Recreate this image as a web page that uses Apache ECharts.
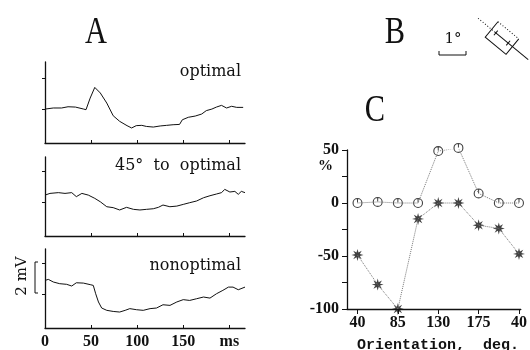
<!DOCTYPE html>
<html>
<head>
<meta charset="utf-8">
<script src="https://cdn.jsdelivr.net/npm/echarts@6/dist/echarts.min.js"></script>
<style>
  html, body { margin: 0; padding: 0; background: #fff; }
  #chart { width: 530px; height: 350px; }
</style>
</head>
<body>
<div id="chart"></div>
<script>
// panel A traces (time in ms, potential in mV)
var tOptimal = [0, 9, 18, 25, 33, 42, 44.5, 49, 54, 60, 67, 74, 81, 89, 94, 99, 105, 110, 117.5, 125, 132, 139, 146, 149, 155.5, 163, 170, 175, 181, 186, 191.5, 197, 202.5, 208, 215];
var vOptimal = [2.04, 2.11, 2.11, 2.19, 2.17, 2.04, 2.0, 2.75, 3.44, 3.08, 2.43, 1.61, 1.25, 0.97, 0.82, 0.97, 0.99, 0.92, 0.88, 0.95, 0.99, 1.03, 1.05, 1.35, 1.51, 1.59, 1.72, 1.94, 2.04, 2.17, 2.28, 2.11, 2.22, 2.15, 2.15];

var t45 = [0, 5.4, 14.5, 21.7, 29, 34, 40, 47, 54, 60, 67, 74, 81, 88.5, 96, 103, 110, 117.5, 123, 128, 135.5, 143, 150, 157, 164.5, 172, 179, 186, 191.6, 195, 200.6, 206, 209.7, 213, 217];
var v45 = [2.49, 2.6, 2.65, 2.6, 2.65, 2.39, 2.6, 2.49, 2.28, 2.06, 1.74, 1.68, 1.53, 1.7, 1.57, 1.53, 1.57, 1.61, 1.7, 1.85, 1.74, 1.78, 1.89, 2.0, 2.11, 2.32, 2.45, 2.56, 2.65, 2.86, 2.69, 2.73, 2.54, 2.73, 2.65];

var tNonopt = [0, 3.6, 9, 16, 23.5, 29, 34, 41.6, 49, 52.4, 55, 58, 61.5, 67, 74, 81, 87, 92, 99.4, 106.6, 114, 121, 128, 135.6, 143, 150, 157, 164.5, 172, 179, 186, 193, 199, 204, 209.7, 217];
var vNonopt = [2.92, 2.99, 2.82, 2.71, 2.67, 2.56, 2.77, 2.75, 2.65, 2.6, 2.06, 1.53, 1.14, 0.99, 0.92, 0.88, 0.99, 1.1, 1.03, 0.99, 1.1, 1.14, 1.35, 1.31, 1.53, 1.68, 1.63, 1.74, 1.85, 1.78, 2.06, 2.28, 2.49, 2.49, 2.32, 2.49];

var timeTicks = [0, 50, 100, 150, 200];
var mvTicks = [2, 4];

// panel C (orientation in deg, response in %)
var orientations = [40, 62.5, 85, 107.5, 130, 152.5, 175, 197.5, 220];
var circleValues = [0, 1, 0, 0, 49, 52, 9, 0, 0];
var starValues = [-49, -77, -100, -15, 0, 0, -21, -24, -48];
var orientTicks = [40, 85, 130, 175, 220];

function pairs(xs, ys) {
    return xs.map(function (x, i) { return [x, ys[i]]; });
}

var ink = '#111';

// 8-point asterisk as a filled star
function starPath() {
    var pts = [];
    for (var i = 0; i < 16; i++) {
        var a = i * Math.PI / 8;
        var r = (i % 2 === 0) ? 10 : 4.2;
        pts.push((10 + r * Math.sin(a)).toFixed(2) + ',' + (10 - r * Math.cos(a)).toFixed(2));
    }
    return 'path://M' + pts.join(' L') + ' Z';
}
var ringPath = 'path://M10,0 A10,10 0 1,1 10,20 A10,10 0 1,1 10,0 Z M10,2.2 A7.8,7.8 0 1,0 10,17.8 A7.8,7.8 0 1,0 10,2.2 Z M9,2 L11,2 L11,9 L9,9 Z';

function traceX(idx, showLabels) {
    return {
        type: 'value', gridIndex: idx, min: 0, max: 217,
        axisLine: {show: true, onZero: false, lineStyle: {color: ink, width: 1.3}},
        axisTick: {show: true, inside: true, length: 3, customValues: timeTicks, lineStyle: {color: ink}},
        axisLabel: {
            show: showLabels, customValues: timeTicks, margin: 6,
            fontFamily: 'Liberation Serif', fontWeight: 'bold', fontSize: 16, color: ink,
            formatter: function (v) { return v === 200 ? 'ms' : String(v); }
        },
        splitLine: {show: false}
    };
}
function traceY(idx, max) {
    return {
        type: 'value', gridIndex: idx, min: -0.15, max: max,
        axisLine: {show: true, onZero: false, lineStyle: {color: ink, width: 1.3}},
        axisTick: {show: true, length: 3, customValues: mvTicks, lineStyle: {color: ink}},
        axisLabel: {show: false},
        splitLine: {show: false}
    };
}
function trace(idx, xs, ys) {
    return {
        type: 'line', xAxisIndex: idx, yAxisIndex: idx,
        data: pairs(xs, ys), showSymbol: false, silent: true,
        lineStyle: {color: ink, width: 1}
    };
}

var chart = echarts.init(document.getElementById('chart'));
var option = {
    backgroundColor: '#fff',
    animation: false,
    grid: [
        {left: 45, top: 62, width: 200, height: 81},
        {left: 45, top: 157, width: 200, height: 79},
        {left: 45, top: 249, width: 200, height: 79},
        {left: 347, top: 150, width: 183, height: 159}
    ],
    xAxis: [
        traceX(0, false), traceX(1, false), traceX(2, true),
        {
            type: 'value', gridIndex: 3, min: 28.3, max: 222,
            axisLine: {show: true, onZero: false, lineStyle: {color: ink, width: 1.3}},
            axisTick: {show: true, length: 5, customValues: orientTicks, lineStyle: {color: ink}},
            axisLabel: {
                customValues: orientTicks, margin: 6,
                fontFamily: 'Liberation Serif', fontWeight: 'bold', fontSize: 16, color: ink,
                formatter: function (v) { return String(v > 180 ? v - 180 : v); }
            },
            splitLine: {show: false}
        }
    ],
    yAxis: [
        traceY(0, 5.08), traceY(1, 4.95), traceY(2, 4.95),
        {
            type: 'value', gridIndex: 3, min: -100, max: 50, interval: 25,
            axisLine: {show: true, onZero: false, lineStyle: {color: ink, width: 1.3}},
            axisTick: {show: true, length: 5, lineStyle: {color: ink}},
            axisLabel: {
                margin: 8,
                fontFamily: 'Liberation Serif', fontWeight: 'bold', fontSize: 16, color: ink,
                formatter: function (v) { return v % 50 === 0 ? String(v) : ''; }
            },
            splitLine: {show: false}
        }
    ],
    series: [
        trace(0, tOptimal, vOptimal),
        trace(1, t45, v45),
        trace(2, tNonopt, vNonopt),
        {
            type: 'line', xAxisIndex: 3, yAxisIndex: 3, data: pairs(orientations, circleValues),
            showSymbol: false, silent: true, lineStyle: {color: '#777', width: 1, type: 'dotted'}
        },
        {
            type: 'line', xAxisIndex: 3, yAxisIndex: 3, data: pairs(orientations, starValues),
            showSymbol: false, silent: true, lineStyle: {color: '#777', width: 1, type: 'dotted'}
        },
        {
            type: 'scatter', xAxisIndex: 3, yAxisIndex: 3, data: pairs(orientations, circleValues),
            symbol: ringPath, symbolSize: 10, clip: false, silent: true, itemStyle: {color: ink}
        },
        {
            type: 'scatter', xAxisIndex: 3, yAxisIndex: 3, data: pairs(orientations, starValues),
            symbol: starPath(), symbolSize: 12, clip: false, silent: true, itemStyle: {color: ink}
        }
    ],
    graphic: [
        {type: 'text', x: 96, y: 33, scaleX: 0.8, style: {text: 'A', fontFamily: 'Liberation Serif', fontSize: 38, fill: ink, align: 'center', verticalAlign: 'middle'}},
        {type: 'text', x: 395, y: 33, scaleX: 0.8, style: {text: 'B', fontFamily: 'Liberation Serif', fontSize: 38, fill: ink, align: 'center', verticalAlign: 'middle'}},
        {type: 'text', x: 375, y: 111, scaleX: 0.8, style: {text: 'C', fontFamily: 'Liberation Serif', fontSize: 38, fill: ink, align: 'center', verticalAlign: 'middle'}},
        {type: 'text', x: 241, y: 72, style: {text: 'optimal', fontFamily: 'DejaVu Serif', fontSize: 16, fill: ink, align: 'right', verticalAlign: 'middle'}},
        {type: 'text', x: 241, y: 166, style: {text: '45°  to  optimal', fontFamily: 'DejaVu Serif', fontSize: 16, fill: ink, align: 'right', verticalAlign: 'middle'}},
        {type: 'text', x: 241, y: 266, style: {text: 'nonoptimal', fontFamily: 'DejaVu Serif', fontSize: 16, fill: ink, align: 'right', verticalAlign: 'middle'}},
        // 2 mV scale bar
        {type: 'text', x: 22, y: 276, rotation: Math.PI / 2, style: {text: '2 mV', fontFamily: 'DejaVu Serif', fontSize: 15, fill: ink, align: 'center', verticalAlign: 'middle'}},
        {type: 'polyline', shape: {points: [[38, 262], [35, 262], [35, 293], [38, 293]]}, style: {stroke: ink, lineWidth: 1, fill: null}},
        // % unit under 50
        {type: 'text', x: 333, y: 166, style: {text: '%', fontFamily: 'Liberation Serif', fontWeight: 'bold', fontSize: 15, fill: ink, align: 'right', verticalAlign: 'middle'}},
        {type: 'text', x: 438, y: 345, style: {text: 'Orientation,  deg.', fontFamily: 'Liberation Mono', fontWeight: 'bold', fontSize: 15, fill: ink, align: 'center', verticalAlign: 'middle'}},
        // 1 degree scale
        {type: 'text', x: 453, y: 39, style: {text: '1°', fontFamily: 'DejaVu Serif', fontSize: 15, fill: ink, align: 'center', verticalAlign: 'middle'}},
        {type: 'polyline', shape: {points: [[439, 51], [439, 55], [466, 55], [466, 51]]}, style: {stroke: ink, lineWidth: 1, fill: null}},
        // bar stimulus icon
        {
            type: 'group', x: 502, y: 38, rotation: -0.69,
            children: [
                {type: 'line', shape: {x1: -31, y1: 0, x2: -10, y2: 0}, style: {stroke: ink, lineWidth: 1, lineDash: [1, 2]}},
                {type: 'line', shape: {x1: -10, y1: 0, x2: 34, y2: 0}, style: {stroke: ink, lineWidth: 1}},
                {type: 'polyline', shape: {points: [[13.5, -10], [13.5, 10], [-13.5, 10], [-13.5, -10]]}, style: {stroke: ink, lineWidth: 1, fill: null}},
                {type: 'line', shape: {x1: -13.5, y1: -10, x2: 13.5, y2: -10}, style: {stroke: ink, lineWidth: 1, lineDash: [1, 2]}},
                {type: 'line', shape: {x1: -8, y1: -3, x2: -8, y2: 3}, style: {stroke: ink, lineWidth: 1}},
                {type: 'line', shape: {x1: 8, y1: -3, x2: 8, y2: 3}, style: {stroke: ink, lineWidth: 1}}
            ]
        }
    ]
};
chart.setOption(option);
</script>
</body>
</html>
